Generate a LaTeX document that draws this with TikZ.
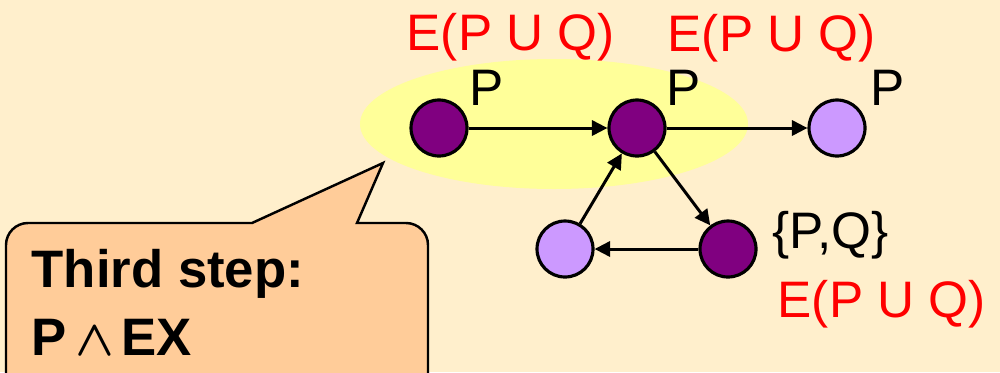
\documentclass[tikz,border=0pt]{standalone}
\usepackage{fontspec}
\setmainfont{Liberation Sans}
\usetikzlibrary{arrows.meta, shapes.geometric}
\definecolor{cBack}{RGB}{255,239,204}
\definecolor{cHigh}{RGB}{255,255,153}
\definecolor{cNote}{RGB}{255,204,153}
\definecolor{cDark}{RGB}{128,0,128}
\definecolor{cLight}{RGB}{204,153,255}
\tikzset{
	state/.style    ={circle, draw=black, line width=0.9pt, minimum size=0.56cm, inner sep=0pt},
	darkst/.style   ={state, fill=cDark},
	lightst/.style  ={state, fill=cLight},
	lbl/.style      ={anchor=base west, inner sep=0pt, font=\fontsize{14.6}{17}\selectfont},
	formula/.style  ={lbl, text=red},
	notetext/.style ={anchor=base west, inner sep=0pt, font=\fontsize{15}{18}\selectfont\bfseries},
	trans/.style    ={-{Triangle[length=4.4pt, width=4.3pt]}, line width=0.85pt},
}
\begin{document}
\begin{tikzpicture}
	\fill[cBack] (0,0) rectangle (10,-3.72);
	\useasboundingbox (0,0) rectangle (10,-3.72);
	\clip (0,0) rectangle (10,-3.72);
	% highlighted region
	\fill[cHigh] (5.54,-1.24) ellipse (1.94 and 0.65);
	% states
	\node[darkst] (s1) at (4.39,-1.28) {};
	\node[darkst] (s2) at (6.37,-1.28) {};
	\node[lightst] (s3) at (8.37,-1.28) {};
	\node[lightst] (s4) at (5.65,-2.49) {};
	\node[darkst] (s5) at (7.28,-2.49) {};
	% labels
	\node[lbl] (p1) at (4.69,-1.05) {P};
	\node[lbl] (p2) at (6.66,-1.05) {P};
	\node[lbl] (p3) at (8.70,-1.05) {P};
	\node[lbl] (pq) at (7.72,-2.48) {\{P,Q\}};
	\node[formula] (f1) at (4.06,-0.50) {E(P U Q)};
	\node[formula] (f2) at (6.67,-0.51) {E(P U Q)};
	\node[formula] (f3) at (7.77,-3.17) {E(P U Q)};
	% transitions
	\draw[trans] (s1) -- (s2);
	\draw[trans] (s2) -- (s3);
	\draw[trans] (s2) -- (s5);
	\draw[trans] (s5) -- (s4);
	\draw[trans] (s4) -- (s2);
	% callout
	\filldraw[fill=cNote, draw=black, line width=0.7pt]
		(0.06,-4.2) -- (0.06,-2.45) arc (180:90:0.22) -- (2.52,-2.23) -- (3.83,-1.63)
		-- (3.57,-2.23) -- (4.06,-2.23) arc (90:0:0.22) -- (4.28,-4.2) -- cycle;
	\node[notetext] (n1) at (0.31,-2.87) {Third step:};
	\node[notetext] (n2) at (0.31,-3.55) {P\hspace{2.5pt}{\fontsize{15}{15}\selectfont\boldmath$\wedge$}\hspace{2pt}EX};
\end{tikzpicture}
\end{document}
